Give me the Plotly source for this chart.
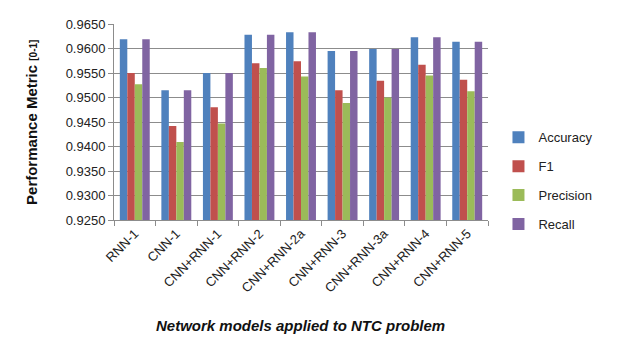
import plotly.graph_objects as go

categories = ["RNN-1", "CNN-1", "CNN+RNN-1", "CNN+RNN-2", "CNN+RNN-2a",
              "CNN+RNN-3", "CNN+RNN-3a", "CNN+RNN-4", "CNN+RNN-5"]
accuracy = [0.9619, 0.9515, 0.9550, 0.9628, 0.9633, 0.9595, 0.9599, 0.9623, 0.9614]
f1 = [0.9550, 0.9442, 0.9480, 0.9570, 0.9574, 0.9515, 0.9534, 0.9567, 0.9536]
precision = [0.9527, 0.9409, 0.9447, 0.9560, 0.9543, 0.9489, 0.9500, 0.9545, 0.9513]
recall = [0.9619, 0.9515, 0.9550, 0.9628, 0.9633, 0.9595, 0.9599, 0.9623, 0.9614]
y_ticks = [0.925, 0.930, 0.935, 0.940, 0.945, 0.950, 0.955, 0.960, 0.965]

series = [("Accuracy", accuracy, "#4F81BD"), ("F1", f1, "#C0504D"),
          ("Precision", precision, "#9BBB59"), ("Recall", recall, "#8064A2")]

font = "Liberation Sans, Arial, sans-serif"
fig = go.Figure()
for name, vals, col in series:
    fig.add_trace(go.Bar(x=categories, y=vals, name=name, marker_color=col,
                         marker_line_width=0, legendgroup=name))

fig.update_layout(
    width=620, height=345,
    margin=dict(l=114, r=132, t=24, b=125),
    paper_bgcolor="white", plot_bgcolor="white",
    barmode="group", bargap=0.28, bargroupgap=0,
    font=dict(family=font, size=13, color="#222"),
    legend=dict(x=1.028, y=0.2, yanchor="middle", xanchor="left",
                font=dict(size=13, color="#222"), tracegroupgap=9,
                itemwidth=30),
    showlegend=True,
)
fig.update_yaxes(range=[0.925, 0.965], tickvals=y_ticks,
                 tickformat=".4f", showgrid=True, gridcolor="#8c8c8c",
                 gridwidth=1, showline=True, linecolor="#8c8c8c",
                 ticks="outside", ticklen=5, tickcolor="#8c8c8c",
                 tickfont=dict(size=13, color="#222"), zeroline=False)
fig.update_xaxes(showline=True, linecolor="#8c8c8c", ticks="outside",
                 tickson="boundaries", ticklen=5, tickcolor="#8c8c8c",
                 tickangle=-45, tickfont=dict(size=13, color="#222"))

fig.add_annotation(text="<b>Performance Metric <span style='font-size:10px'>[0-1]</span></b>",
                   xref="paper", yref="paper", x=-0.222, y=0.5, textangle=-90,
                   showarrow=False, font=dict(size=15, color="#111"),
                   xanchor="center", yanchor="middle")
fig.add_annotation(text="<b><i>Network models applied to NTC problem</i></b>",
                   xref="paper", yref="paper", x=0.498, y=-0.538,
                   showarrow=False, font=dict(size=15, color="#111"),
                   xanchor="center", yanchor="middle")

fig.write_html("out.html")
